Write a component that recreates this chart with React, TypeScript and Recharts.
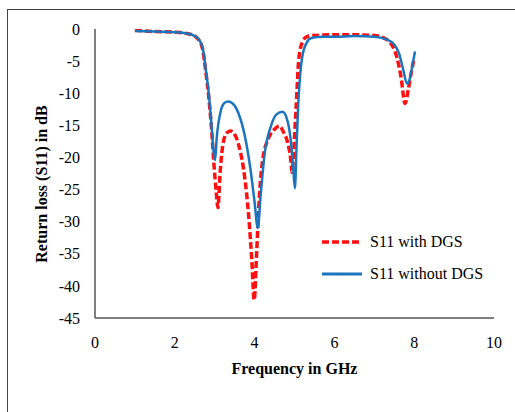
import React from "react";
import { LineChart, Line, XAxis, YAxis } from "recharts";

// S11 with DGS (red dashed)
const withDgsFreq = [
  1.0, 1.5, 2.0, 2.3, 2.5, 2.6, 2.7, 2.78, 2.85, 2.92, 2.98, 3.04, 3.08, 3.14, 3.22, 3.32, 3.4, 3.5,
  3.62, 3.75, 3.85, 3.93, 3.99, 4.05, 4.12, 4.2, 4.35, 4.5, 4.62, 4.72, 4.82, 4.9, 4.94, 4.98, 5.04,
  5.11, 5.2, 5.31, 5.5, 6.0, 6.5, 7.0, 7.3, 7.45, 7.57, 7.67, 7.77, 7.85, 7.92, 8.0,
];
const withDgsS11 = [
  -0.2, -0.4, -0.5, -0.7, -1.1, -1.7, -3.2, -6.8, -10.5, -15.5, -21, -25.5, -27.8, -22, -17.5, -16.1, -15.9, -16.4,
  -18.5, -23, -29, -36, -42.2, -35, -26, -20.5, -17, -15.6, -15.1, -16, -17.5, -20, -22.3, -19, -12.3,
  -4.5, -2.0, -1.2, -1.0, -0.9, -0.9, -1.0, -1.6, -2.6, -4.5, -7.5, -11.6, -9.5, -7, -4.5,
];

// S11 without DGS (blue solid)
const withoutDgsFreq = [
  1.0, 1.5, 2.0, 2.3, 2.5, 2.6, 2.7, 2.78, 2.85, 2.92, 2.97, 3.01, 3.05, 3.15, 3.25, 3.34, 3.45, 3.6, 3.75,
  3.9, 4.0, 4.08, 4.15, 4.25, 4.4, 4.55, 4.7, 4.8, 4.9, 4.96, 5.01, 5.05, 5.09, 5.19, 5.3, 5.42, 5.7,
  6.0, 6.5, 7.0, 7.3, 7.5, 7.62, 7.72, 7.82, 7.9, 7.96, 8.02,
];
const withoutDgsS11 = [
  -0.3, -0.4, -0.5, -0.7, -1.1, -1.6, -3.0, -6.5, -10, -15, -19, -20.4, -17, -12.8, -11.5, -11.3, -11.6, -13.2, -16.5,
  -22, -27, -31, -26, -19.5, -15.3, -13.3, -12.9, -13.8, -17, -21, -24.8, -18.5, -12.3, -4.5, -2.2, -1.4, -1.2,
  -1.2, -1.1, -1.2, -1.6, -2.4, -3.8, -6.2, -8.5, -7.5, -5.5, -3.5,
];

const xTicks = [0, 2, 4, 6, 8, 10];
const yTicks = [0, -5, -10, -15, -20, -25, -30, -35, -40, -45];

const RED = "#ff1010";
const BLUE = "#1b75bc";
const FONT = "'Liberation Serif', 'DejaVu Serif', serif";

const withDgs = withDgsFreq.map((f, i) => ({ f, s11: withDgsS11[i] }));
const withoutDgs = withoutDgsFreq.map((f, i) => ({ f, s11: withoutDgsS11[i] }));

function LegendBox() {
  const items = [
    { label: "S11 with DGS", color: RED, dash: "7 3", width: 3.5 },
    { label: "S11 without DGS", color: BLUE, dash: undefined, width: 3 },
  ];
  return (
    <div style={{ position: "absolute", left: 322, top: 226, fontFamily: FONT, fontSize: 16, color: "#000" }}>
      {items.map((it) => (
        <div key={it.label} style={{ display: "flex", alignItems: "center", height: 32 }}>
          <svg width={48} height={10} style={{ flex: "none" }}>
            <line x1={0} y1={5} x2={40} y2={5} stroke={it.color} strokeWidth={it.width} strokeDasharray={it.dash} />
          </svg>
          <span style={{ whiteSpace: "nowrap" }}>{it.label}</span>
        </div>
      ))}
    </div>
  );
}

export default function App() {
  const tickStyle = { fontSize: 16, fill: "#000" };
  return (
    <div
      style={{
        position: "absolute",
        left: 0,
        top: 0,
        width: 515,
        height: 412,
        overflow: "hidden",
        background: "#fff",
        fontFamily: FONT,
      }}
    >
      <style>{`.recharts-text, .recharts-cartesian-axis-tick-value { font-family: ${FONT}; }`}</style>
      <div
        style={{
          position: "absolute",
          left: 7,
          top: 9,
          width: 520,
          height: 420,
          borderLeft: "1.5px solid #444",
          borderTop: "1.5px solid #444",
        }}
      />
      <LineChart
        width={515}
        height={412}
        margin={{ top: 29, right: 21, bottom: 54, left: 0 }}
        style={{ fontFamily: FONT }}
      >
        <XAxis
          xAxisId="top"
          orientation="top"
          type="number"
          domain={[0, 10]}
          height={0}
          tick={false}
          tickLine={false}
          axisLine={{ stroke: "#a8a8a8", strokeWidth: 1.5 }}
        />
        <YAxis
          yAxisId="right"
          orientation="right"
          type="number"
          domain={[-45, 0]}
          width={0}
          tick={false}
          tickLine={false}
          axisLine={{ stroke: "#666", strokeWidth: 2 }}
        />
        <XAxis
          dataKey="f"
          type="number"
          domain={[0, 10]}
          ticks={xTicks}
          height={40}
          tick={tickStyle}
          tickLine={false}
          tickSize={5}
          tickMargin={14}
          axisLine={{ stroke: "#555", strokeWidth: 1.5 }}
          allowDataOverflow
        />
        <YAxis
          type="number"
          domain={[-45, 0]}
          ticks={yTicks}
          width={95}
          tick={tickStyle}
          tickLine={false}
          tickSize={5}
          tickMargin={10}
          axisLine={{ stroke: "#555", strokeWidth: 1.5 }}
          allowDataOverflow
        />
        <Line
          data={withDgs}
          dataKey="s11"
          name="S11 with DGS"
          type="monotone"
          stroke={RED}
          strokeWidth={3.5}
          strokeDasharray="7 3"
          dot={false}
          isAnimationActive={false}
        />
        <Line
          data={withoutDgs}
          dataKey="s11"
          name="S11 without DGS"
          type="monotone"
          stroke={BLUE}
          strokeWidth={2.5}
          dot={false}
          isAnimationActive={false}
        />
      </LineChart>
      <LegendBox />
      <div
        style={{
          position: "absolute",
          left: 95,
          width: 399,
          top: 360,
          textAlign: "center",
          fontSize: 16,
          fontWeight: "bold",
        }}
      >
        Frequency in GHz
      </div>
      <div
        style={{
          position: "absolute",
          left: 42,
          top: 184,
          transform: "translate(-50%, -50%) rotate(-90deg)",
          whiteSpace: "nowrap",
          fontSize: 16,
          fontWeight: "bold",
        }}
      >
        Return loss (S11) in dB
      </div>
    </div>
  );
}
